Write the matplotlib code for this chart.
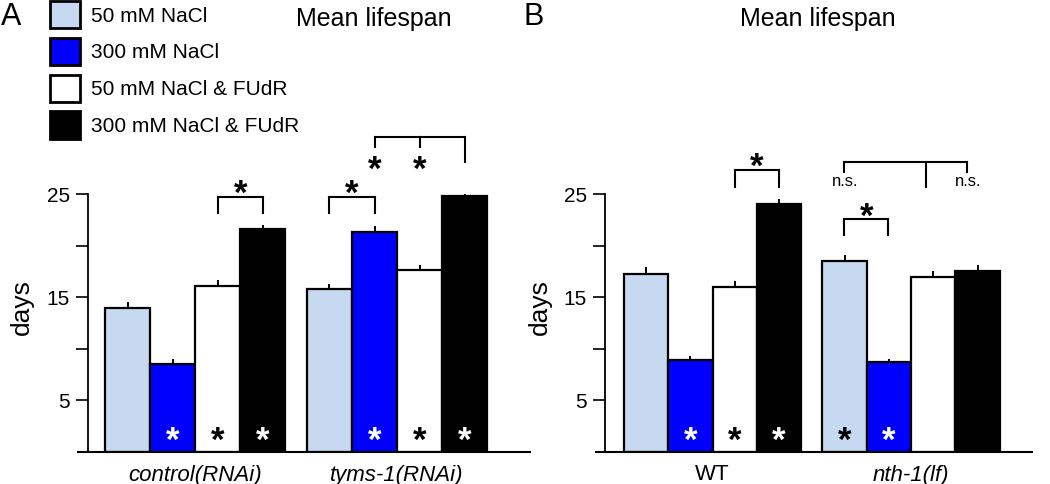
import matplotlib
matplotlib.use("Agg")
import matplotlib.pyplot as plt
from matplotlib.patches import Patch
from matplotlib.transforms import offset_copy, blended_transform_factory

plt.rcParams['font.family'] = ['Liberation Sans', 'DejaVu Sans']

# ---------------- data ----------------
series_labels = ["50 mM NaCl", "300 mM NaCl", "50 mM NaCl & FUdR", "300 mM NaCl & FUdR"]
series_colors = ["#C6D9F0", "#0000FF", "#FFFFFF", "#000000"]

groups_A = ["control(RNAi)", "tyms-1(RNAi)"]
means_A = [[14.0, 8.5, 16.1, 21.6],      # control(RNAi)
           [15.8, 21.3, 17.6, 24.8]]     # tyms-1(RNAi)
sem_A = [[0.5, 0.5, 0.6, 0.4],
         [0.5, 0.6, 0.5, 0.5]]

groups_B = ["WT", "nth-1(lf)"]
means_B = [[17.2, 8.9, 16.0, 24.0],
           [18.5, 8.75, 17.0, 17.5]]
sem_B = [[0.7, 0.4, 0.6, 0.5],
         [0.6, 0.25, 0.5, 0.6]]

yticks_major = [5, 15, 25]
yticks_minor = [10, 20]

# in-bar significance stars: (group, series, colour)
instars_A = [(0, 1, 'white'), (0, 2, 'black'), (0, 3, 'white'),
             (1, 1, 'white'), (1, 2, 'black'), (1, 3, 'white')]
instars_B = [(0, 1, 'white'), (0, 2, 'black'), (0, 3, 'white'),
             (1, 0, 'black'), (1, 1, 'white')]

W, H = 1050, 484
fig = plt.figure(figsize=(W / 100, H / 100), dpi=100)

group_gap = 4.48  # offset of second group (in bar widths)


def star(ax, x, y, color='black', fs=25):
    tr = offset_copy(ax.transData, fig=fig, y=-0.57 * fs, units='points')
    ax.text(x, y, '*', ha='center', va='baseline', fontsize=fs, fontweight='bold',
            color=color, transform=tr, clip_on=False)


def panel(rect, means, sems, groups, italic, xlim, yspine, instars, ylab_x):
    ax = fig.add_axes(rect)
    for g, (m, s) in enumerate(zip(means, sems)):
        xs = [g * group_gap + i for i in range(4)]
        ax.bar(xs, m, width=1.0, color=series_colors, edgecolor='black',
               linewidth=1.6, zorder=2)
        for x, v, e in zip(xs, m, s):
            ax.plot([x, x], [v, v + e], color='black', lw=1.4, zorder=1,
                    solid_capstyle='butt')
    for g, i, c in instars:
        star(ax, g * group_gap + i, 2.0, c)
    ax.set_xlim(*xlim)
    ax.set_ylim(0, 25)
    ax.spines['top'].set_visible(False)
    ax.spines['right'].set_visible(False)
    ax.spines['left'].set_position(('data', yspine))
    ax.spines['left'].set_linewidth(1.3)
    ax.spines['bottom'].set_linewidth(1.5)
    ax.set_yticks(yticks_major)
    ax.set_yticks(yticks_minor, minor=True)
    ax.tick_params(axis='y', which='both', length=9, width=1.2, labelsize=15, pad=4)
    ax.set_xticks([1.5, group_gap + 1.5])
    ax.set_xticklabels(groups, fontsize=16)
    for lab, it in zip(ax.get_xticklabels(), italic):
        if it:
            lab.set_style('italic')
    ax.tick_params(axis='x', length=0, pad=9)
    tr = blended_transform_factory(ax.transAxes, ax.transAxes)
    ax.text(ylab_x, 0.56, 'days', rotation=90, ha='center', va='center',
            fontsize=19, transform=tr)
    return ax


def bracket(ax, x0, x1, top, legs):
    ax.plot([x0, x1], [top, top], color='black', lw=1.5, clip_on=False,
            solid_capstyle='projecting')
    for x, b in legs:
        ax.plot([x, x], [top, b], color='black', lw=1.5, clip_on=False)


# ---------------- Panel A ----------------
axA = panel([78 / W, 32 / H, 452 / W, 258 / H], means_A, sem_A, groups_A,
            [True, True], (-1.1, 8.93), -0.88, instars_A, -0.124)
g2 = group_gap
bracket(axA, 2, 3, 24.7, [(2, 23.2), (3, 23.2)])
star(axA, 2.5, 26.0)
bracket(axA, g2, g2 + 1, 24.7, [(g2, 23.2), (g2 + 1, 23.2)])
star(axA, g2 + 0.5, 26.0)
bracket(axA, g2 + 1, g2 + 3, 30.5, [(g2 + 1, 29.6), (g2 + 2, 29.6), (g2 + 3, 28.1)])
star(axA, g2 + 1, 28.3)
star(axA, g2 + 2, 28.3)

# ---------------- Panel B ----------------
axB = panel([596 / W, 32 / H, 436 / W, 258 / H], means_B, sem_B, groups_B,
            [False, True], (-1.13, 8.71), -0.93, instars_B, -0.128)
g2 = 4.47
bracket(axB, 2, 3, 27.3, [(2, 25.7), (3, 25.7)])
star(axB, 2.5, 28.6)
bracket(axB, g2, g2 + 1, 22.6, [(g2, 21.0), (g2 + 1, 21.0)])
star(axB, g2 + 0.5, 23.7)
bracket(axB, g2, 7.24, 28.1, [(g2, 27.1), (6.32, 25.7), (7.24, 27.1)])
axB.text(g2 + 0.03, 26.2, 'n.s.', ha='center', va='center', fontsize=12, clip_on=False)
axB.text(7.27, 26.2, 'n.s.', ha='center', va='center', fontsize=12, clip_on=False)

# ---------------- titles, panel letters, legend ----------------
fig.text(374 / W, 1 - 19 / H, 'Mean lifespan', ha='center', va='center', fontsize=18)
fig.text(818 / W, 1 - 19 / H, 'Mean lifespan', ha='center', va='center', fontsize=18)
fig.text(1 / W, 1 - 2 / H, 'A', ha='left', va='top', fontsize=22)
fig.text(524 / W, 1 - 2 / H, 'B', ha='left', va='top', fontsize=22)

handles = [Patch(facecolor=c, edgecolor='black', linewidth=2.0) for c in series_colors]
fig.legend(handles, series_labels, loc='upper left', bbox_to_anchor=(50 / W, 1 - 1 / H),
           frameon=False, fontsize=15, handlelength=1.45, handleheight=1.65,
           handletextpad=0.5, labelspacing=0.45, borderpad=0, borderaxespad=0)

fig.savefig('out.png', dpi=100)
